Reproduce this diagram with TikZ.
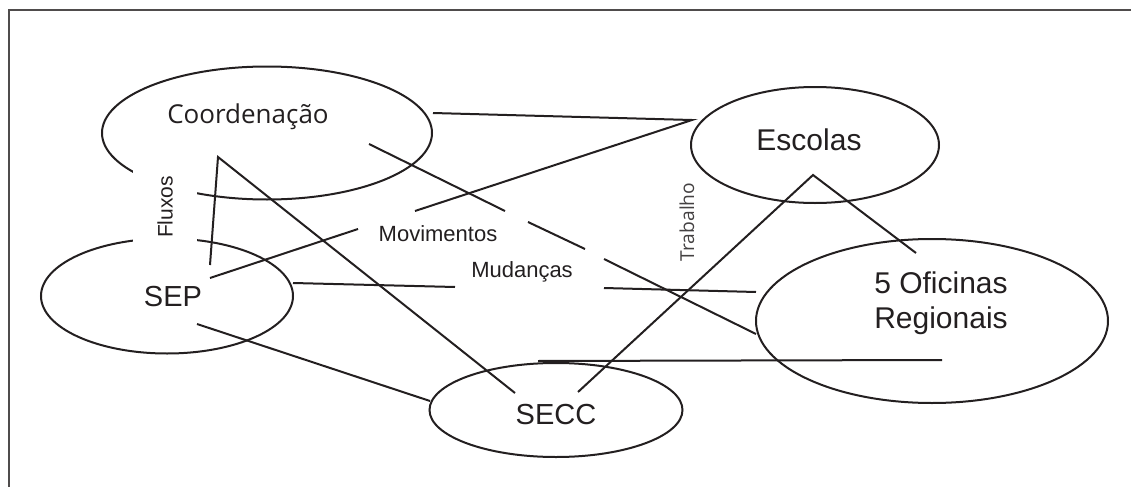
\documentclass[tikz,border=0pt]{standalone}
\usepackage{fontspec}
\setmainfont{Liberation Sans}
\newfontfamily\lightfont{Open Sans}
\usetikzlibrary{shapes.geometric}
\definecolor{ink}{HTML}{231F20}

\begin{document}
\begin{tikzpicture}[x=0.5pt, y=-0.5pt,
  oval/.style={ellipse, draw=ink, line width=1pt, inner sep=0pt},
  tag/.style={inner sep=0pt, text=ink},
  link/.style={draw=ink, line width=1pt}
]
\useasboundingbox (0,0) rectangle (1131,487);
\draw[ink!80, line width=1pt] (8.5,487) -- (8.5,10) -- (1131,10);

\node[oval, minimum width=165pt, minimum height=66.5pt] (coord) at (267,133) {};
\node[oval, minimum width=124pt, minimum height=58pt] (escolas) at (815,145) {};
\node[oval, minimum width=126pt, minimum height=57.5pt] (sep) at (167,296) {};
\node[oval, minimum width=176pt, minimum height=82pt] (oficinas) at (932,321) {};
\node[oval, minimum width=126.5pt, minimum height=47pt] (secc) at (556,410) {};

\node[tag, font=\lightfont\fontsize{13}{15}\selectfont] (coordtxt) at (248,117) {Coordenação};
\node[tag, font=\fontsize{15}{18}\selectfont] (escolastxt) at (809,140) {Escolas};
\node[tag, font=\fontsize{14.5}{17}\selectfont] (septxt) at (173,297) {SEP};
\node[tag, font=\fontsize{14.5}{17}\selectfont] (secctxt) at (556,415) {SECC};
\node[tag, align=center, font=\fontsize{15}{17.5}\selectfont] (oficinastxt) at (941,303) {5 Oficinas\\Regionais};

% corners and loose ends of the links
\coordinate (ce) at (692,120);
\coordinate (cc) at (218,157);
\coordinate (ca) at (813,175);
\coordinate (c1) at (433,113);
\coordinate (s1) at (210,278);
\coordinate (s2) at (210,265);
\coordinate (s3) at (197,324);
\coordinate (s4) at (293,283);
\coordinate (m1) at (358,229);
\coordinate (m2) at (415,211);
\coordinate (u1) at (455,287);
\coordinate (u2) at (604,288);
\coordinate (u3) at (756,292);
\coordinate (k1) at (369,144);
\coordinate (k2) at (505,211);
\coordinate (k3) at (528,222);
\coordinate (k4) at (585,249);
\coordinate (k5) at (604,259);
\coordinate (k6) at (756,334);
\coordinate (e1) at (515,393);
\coordinate (e2) at (578,392);
\coordinate (e3) at (430,401);
\coordinate (e4) at (538,361);
\coordinate (o1) at (916,253);
\coordinate (o2) at (942,360);

\draw[link] (c1) -- (ce) -- (m2);
\draw[link] (m1) -- (s1);
\draw[link] (s2) -- (cc) -- (e1);
\draw[link] (k1) -- (k2) (k3) -- (k4) (k5) -- (k6);
\draw[link] (s4) -- (u1) (u2) -- (u3);
\draw[link] (s3) -- (e3);
\draw[link] (e2) -- (ca) -- (o1);
\draw[link] (e4) -- (o2);

\node[tag, fill=white, rotate=90, minimum width=38pt, minimum height=32pt,
  font=\fontsize{10.5}{12}\selectfont] (fluxos) at (165,207) {Fluxos};
\node[tag, font=\fontsize{11}{13}\selectfont] (movimentos) at (438,234) {Movimentos};
\node[tag, font=\fontsize{11}{13}\selectfont] (mudancas) at (522,272) {Mudanças};
\node[tag, rotate=90, text=ink!85, font=\lightfont\fontsize{9.6}{11}\selectfont] (trabalho) at (687,222) {Trabalho};
\end{tikzpicture}
\end{document}
